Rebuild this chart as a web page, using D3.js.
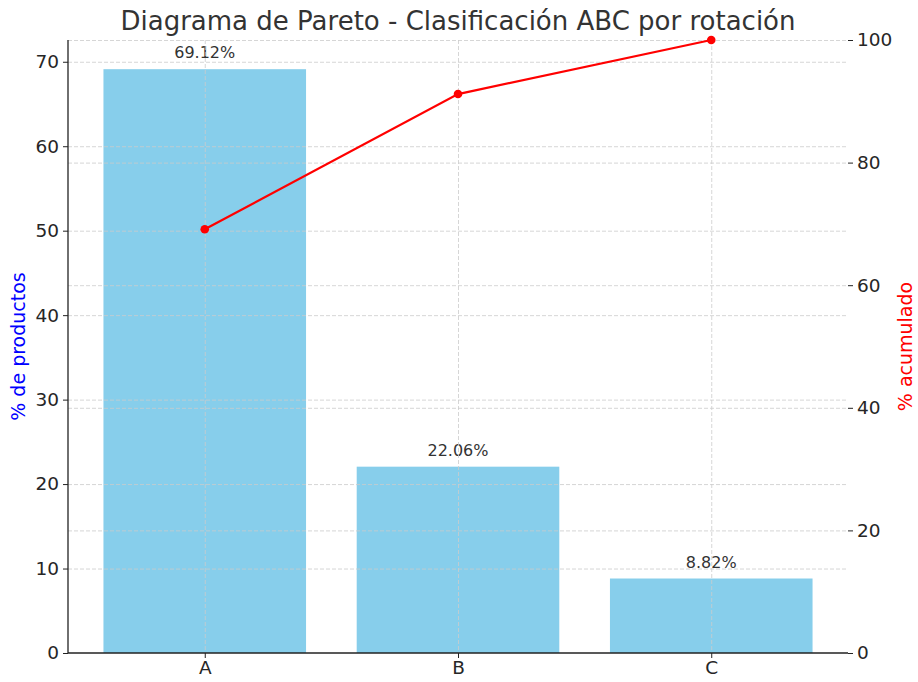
<!DOCTYPE html>
<html>
<head>
  <meta charset="utf-8">
  <title>Diagrama de Pareto</title>
  <script src="https://cdn.jsdelivr.net/npm/d3@7"></script>
  <style>
    body { margin: 0; background: #fff; }
    text { font-family: "DejaVu Sans", sans-serif; }
    .grid line { stroke: #cccccc; stroke-dasharray: 4 2; stroke-width: 0.8; }
    .grid path { display: none; }
    .axis text { font-size: 18.5px; fill: #262626; }
    .axis line, .axis path { stroke: #222; }
  </style>
</head>
<body>
<svg id="chart" width="918" height="682"></svg>
<script>
// data
var categories = ['A', 'B', 'C'];
var pctProducts = [69.12, 22.06, 8.82];
var pctCumulative = [69.12, 91.18, 100];
var leftTicks = [0, 10, 20, 30, 40, 50, 60, 70];
var rightTicks = [0, 20, 40, 60, 80, 100];

var margin = { top: 40, left: 68, right: 70, bottom: 29 };
var width = 918 - margin.left - margin.right;
var height = 682 - margin.top - margin.bottom;

var svg = d3.select('#chart');
var g = svg.append('g').attr('transform', 'translate(' + margin.left + ',' + margin.top + ')');

// x: bars span -0.4..2.4 with 5% padding
var x = d3.scaleLinear().domain([-0.54, 2.54]).range([0, width]);
var yLeft = d3.scaleLinear().domain([0, d3.max(pctProducts) * 1.05]).range([height, 0]);
var yRight = d3.scaleLinear().domain([0, 100]).range([height, 0]);
var barW = x(0.8) - x(0);

// bars
g.selectAll('.bar').data(pctProducts).enter().append('rect')
  .attr('class', 'bar')
  .attr('x', function (d, i) { return x(i) - barW / 2; })
  .attr('y', function (d) { return yLeft(d); })
  .attr('width', barW)
  .attr('height', function (d) { return height - yLeft(d); })
  .attr('fill', '#87CEEB');

// bar labels
g.selectAll('.blabel').data(pctProducts).enter().append('text')
  .attr('x', function (d, i) { return x(i); })
  .attr('y', function (d) { return yLeft(d) - 11; })
  .attr('text-anchor', 'middle')
  .style('font-size', '16px')
  .style('fill', '#333')
  .text(function (d) { return d.toFixed(2) + '%'; });

// grids on top of bars
g.append('g').attr('class', 'grid')
  .call(d3.axisLeft(yLeft).tickValues(leftTicks.slice(1)).tickSize(-width).tickFormat(''));
g.append('g').attr('class', 'grid')
  .call(d3.axisLeft(yRight).tickValues(rightTicks.slice(1)).tickSize(-width).tickFormat(''));
g.append('g').attr('class', 'grid')
  .call(d3.axisTop(x).tickValues(d3.range(categories.length)).tickSize(-height).tickFormat(''));

// cumulative line
var line = d3.line()
  .x(function (d, i) { return x(i); })
  .y(function (d) { return yRight(d); });
g.append('path').datum(pctCumulative)
  .attr('d', line)
  .attr('fill', 'none')
  .attr('stroke', '#ff0000')
  .attr('stroke-width', 2.2);
g.selectAll('.dot').data(pctCumulative).enter().append('circle')
  .attr('cx', function (d, i) { return x(i); })
  .attr('cy', function (d) { return yRight(d); })
  .attr('r', 4.3)
  .attr('fill', '#ff0000');

// axes
var axL = g.append('g').attr('class', 'axis')
  .call(d3.axisLeft(yLeft).tickValues(leftTicks).tickSize(5).tickPadding(4));
axL.select('.domain').attr('d', 'M0,' + height + 'V0').attr('stroke-width', 1.3);

var axR = g.append('g').attr('class', 'axis')
  .attr('transform', 'translate(' + width + ',0)')
  .call(d3.axisRight(yRight).tickValues(rightTicks).tickSize(5).tickPadding(4));
axR.select('.domain').remove();

var axB = g.append('g').attr('class', 'axis')
  .attr('transform', 'translate(0,' + height + ')')
  .call(d3.axisBottom(x).tickValues(d3.range(categories.length))
    .tickFormat(function (i) { return categories[i]; }).tickSize(5).tickPadding(3));
axB.select('.domain').attr('d', 'M0,0H' + width).attr('stroke-width', 1.3);

// labels
svg.append('text')
  .attr('x', 458).attr('y', 30)
  .attr('text-anchor', 'middle')
  .style('font-size', '26px').style('fill', '#333')
  .text('Diagrama de Pareto - Clasificación ABC por rotación');

svg.append('text')
  .attr('transform', 'translate(25,' + (margin.top + height / 2) + ') rotate(-90)')
  .attr('text-anchor', 'middle')
  .style('font-size', '19px').style('fill', '#0000ff')
  .text('% de productos');

svg.append('text')
  .attr('transform', 'translate(912,' + (margin.top + height / 2) + ') rotate(-90)')
  .attr('text-anchor', 'middle')
  .style('font-size', '19px').style('fill', '#ff0000')
  .text('% acumulado');
</script>
</body>
</html>
